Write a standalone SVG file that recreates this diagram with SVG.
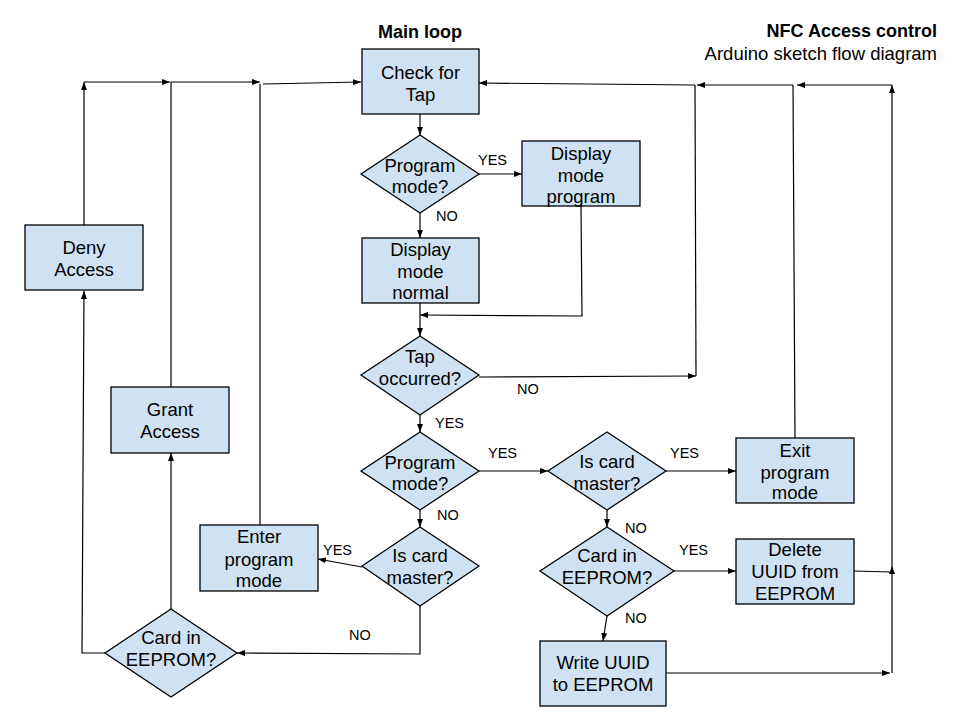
<svg xmlns="http://www.w3.org/2000/svg" width="960" height="720" viewBox="0 0 960 720">
<defs>
<marker id="arr" markerUnits="userSpaceOnUse" markerWidth="8" markerHeight="6" refX="8" refY="3" orient="auto">
<path d="M0,0 L8,3 L0,6 z" fill="#000"/>
</marker>
<style>
.n{fill:#cfe2f3;stroke:#000;stroke-width:1.3}
.t{font-family:"Liberation Sans",Arial,sans-serif;font-size:18.5px;fill:#000;text-anchor:middle}
.l{font-family:"Liberation Sans",Arial,sans-serif;font-size:14.5px;fill:#000}
.c{fill:none;stroke:#000;stroke-width:1.2}
.a{marker-end:url(#arr)}
</style>
</defs>
<rect width="960" height="720" fill="#fff"/>
<text x="420" y="38" font-family="Liberation Sans,Arial,sans-serif" font-size="18" font-weight="bold" text-anchor="middle">Main loop</text>
<text x="937" y="37" font-family="Liberation Sans,Arial,sans-serif" font-size="18" font-weight="bold" text-anchor="end">NFC Access control</text>
<text x="937" y="60" font-family="Liberation Sans,Arial,sans-serif" font-size="18.5" text-anchor="end">Arduino sketch flow diagram</text>

<g id="connectors">
<path class="c a" d="M420,114 L420,135"/>
<path class="c a" d="M479,174 L522,174"/>
<path class="c a" d="M420,213 L420,238"/>
<path class="c a" d="M420,303 L420,336"/>
<path class="c a" d="M581,206 L582,316 L420,315"/>
<path class="c a" d="M479,377 L696,376"/>
<path class="c" d="M696,376 L695,85"/>
<path class="c a" d="M695,85 L479,83"/>
<path class="c a" d="M793,85 L697,85"/>
<path class="c" d="M795,438 L793,85"/>
<path class="c a" d="M892,85 L797,85"/>
<path class="c a" d="M892,673 L892,566"/>
<path class="c a" d="M892,566 L892,85"/>
<path class="c" d="M854,571 L891,572"/>
<path class="c a" d="M666,673 L890,673"/>
<path class="c a" d="M420,415 L420,432"/>
<path class="c a" d="M479,471 L548,471"/>
<path class="c a" d="M666,471 L736,471"/>
<path class="c a" d="M607,510 L607,527"/>
<path class="c a" d="M674,571 L736,571"/>
<path class="c a" d="M607,616 L603,641"/>
<path class="c a" d="M420,510 L420,527"/>
<path class="c a" d="M362,567 L318,559"/>
<path class="c a" d="M420,606 L420,654 L237,653"/>
<path class="c a" d="M105,653 L82,653 L84,291"/>
<path class="c a" d="M171,609 L171,453"/>
<path class="c a" d="M84,225 L84,82"/>
<path class="c a" d="M84,82 L170,82"/>
<path class="c" d="M171,387 L171,82"/>
<path class="c a" d="M171,82 L260,82"/>
<path class="c" d="M260,525 L260,84"/>
<path class="c a" d="M263,84 L361,82"/>
</g>

<g id="check-for-tap">
<rect class="n" x="362" y="49" width="117" height="65"/>
<text class="t" x="420.5" y="79">Check for</text>
<text class="t" x="420.5" y="101">Tap</text>
</g>
<g id="program-mode-1">
<polygon class="n" points="420,135 479,174 420,213 361,174"/>
<text class="t" x="420" y="172">Program</text>
<text class="t" x="420" y="193">mode?</text>
</g>
<g id="display-mode-program">
<rect class="n" x="522" y="141" width="118" height="65"/>
<text class="t" x="581" y="160">Display</text>
<text class="t" x="581" y="181.5">mode</text>
<text class="t" x="581" y="203">program</text>
</g>
<g id="display-mode-normal">
<rect class="n" x="362" y="238" width="117" height="65"/>
<text class="t" x="420.5" y="256">Display</text>
<text class="t" x="420.5" y="278">mode</text>
<text class="t" x="420.5" y="299">normal</text>
</g>
<g id="tap-occurred">
<polygon class="n" points="420,336 479,375 420,415 361,375"/>
<text class="t" x="420" y="363">Tap</text>
<text class="t" x="420" y="385">occurred?</text>
</g>
<g id="program-mode-2">
<polygon class="n" points="420,432 479,471 420,510 361,471"/>
<text class="t" x="420" y="469">Program</text>
<text class="t" x="420" y="490">mode?</text>
</g>
<g id="is-card-master-1">
<polygon class="n" points="420,527 479,566 420,606 362,566"/>
<text class="t" x="420" y="562">Is card</text>
<text class="t" x="420" y="584">master?</text>
</g>
<g id="enter-program-mode">
<rect class="n" x="200" y="525" width="118" height="66"/>
<text class="t" x="259" y="543">Enter</text>
<text class="t" x="259" y="566">program</text>
<text class="t" x="259" y="587">mode</text>
</g>
<g id="card-in-eeprom-1">
<polygon class="n" points="171,609 237,653 171,697 105,653"/>
<text class="t" x="171" y="644">Card in</text>
<text class="t" x="171" y="666">EEPROM?</text>
</g>
<g id="deny-access">
<rect class="n" x="25" y="225" width="118" height="65"/>
<text class="t" x="84" y="254">Deny</text>
<text class="t" x="84" y="276">Access</text>
</g>
<g id="grant-access">
<rect class="n" x="111" y="387" width="118" height="66"/>
<text class="t" x="170" y="416">Grant</text>
<text class="t" x="170" y="438">Access</text>
</g>
<g id="is-card-master-2">
<polygon class="n" points="607,432 666,471 607,510 548,471"/>
<text class="t" x="607" y="468">Is card</text>
<text class="t" x="607" y="490">master?</text>
</g>
<g id="exit-program-mode">
<rect class="n" x="736" y="438" width="118" height="65"/>
<text class="t" x="795" y="457">Exit</text>
<text class="t" x="795" y="479">program</text>
<text class="t" x="795" y="499">mode</text>
</g>
<g id="card-in-eeprom-2">
<polygon class="n" points="607,527 674,571 607,616 540,571"/>
<text class="t" x="607" y="562">Card in</text>
<text class="t" x="607" y="584">EEPROM?</text>
</g>
<g id="delete-uuid">
<rect class="n" x="736" y="539" width="118" height="65"/>
<text class="t" x="795" y="556">Delete</text>
<text class="t" x="795" y="578">UUID from</text>
<text class="t" x="795" y="600">EEPROM</text>
</g>
<g id="write-uuid">
<rect class="n" x="540" y="641" width="126" height="65"/>
<text class="t" x="603" y="669">Write UUID</text>
<text class="t" x="603" y="691">to EEPROM</text>
</g>

<g id="labels">
<text class="l" x="478" y="165">YES</text>
<text class="l" x="436" y="221">NO</text>
<text class="l" x="517" y="394">NO</text>
<text class="l" x="435" y="428">YES</text>
<text class="l" x="488" y="458">YES</text>
<text class="l" x="670" y="458">YES</text>
<text class="l" x="437" y="520">NO</text>
<text class="l" x="323" y="555">YES</text>
<text class="l" x="349" y="640">NO</text>
<text class="l" x="625" y="533">NO</text>
<text class="l" x="679" y="555">YES</text>
<text class="l" x="625" y="623">NO</text>
</g>
</svg>
